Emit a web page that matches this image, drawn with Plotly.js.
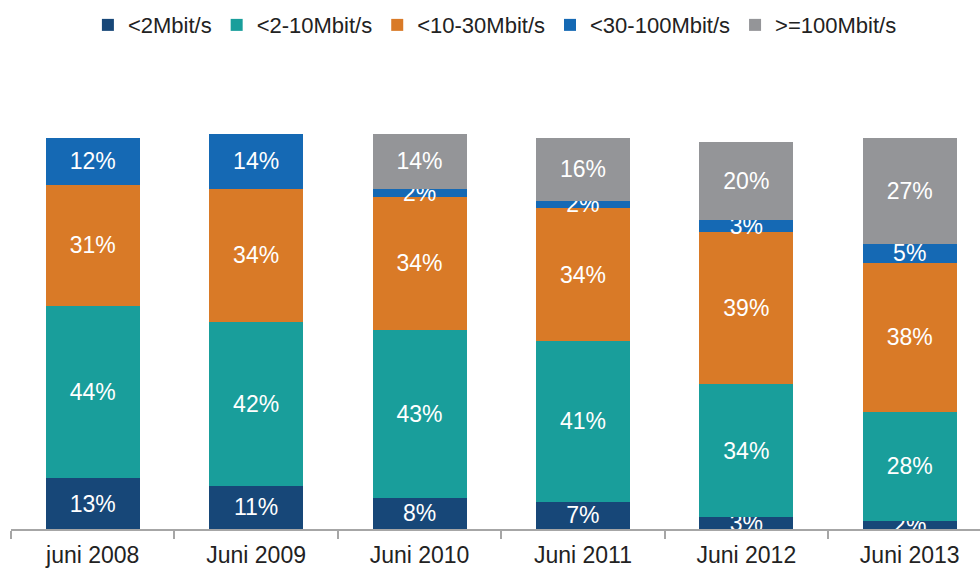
<!DOCTYPE html>
<html>
<head>
<meta charset="utf-8">
<script src="https://cdn.plot.ly/plotly-3.0.1.min.js"></script>
<style>
  body { margin: 0; background: #fff; }
  #chart { width: 980px; height: 570px; }
</style>
</head>
<body>
<div id="chart"></div>
<script>
// Data
var categories = ["juni 2008", "Juni 2009", "Juni 2010", "Juni 2011", "Juni 2012", "Juni 2013"];
var seriesNames = ["<2Mbit/s", "<2-10Mbit/s", "<10-30Mbit/s", "<30-100Mbit/s", ">=100Mbit/s"];
var lt2 = [13, 11, 8, 7, 3, 2];
var r2to10 = [44, 42, 43, 41, 34, 28];
var r10to30 = [31, 34, 34, 34, 39, 38];
var r30to100 = [12, 14, 2, 2, 3, 5];
var ge100 = [null, null, 14, 16, 20, 27];

var colors = ["#174778", "#199e9b", "#d97a27", "#1569b4", "#949598"];
var values = [lt2, r2to10, r10to30, r30to100, ge100];

var data = values.map(function (vals, i) {
  return {
    x: categories,
    y: vals,
    name: seriesNames[i],
    type: "bar",
    marker: { color: colors[i] },
    text: vals.map(function (v) { return v == null ? "" : v + "%"; }),
    textposition: "inside",
    insidetextanchor: "middle",
    textangle: 0,
    textfont: { color: "#ffffff", size: 23, family: "Liberation Sans, Arial, sans-serif" },
    hoverinfo: "none"
  };
});

var layout = {
  barmode: "stack",
  bargap: 0.425,
  width: 980,
  height: 570,
  margin: { l: 11, r: 0, t: 100, b: 41 },
  paper_bgcolor: "#ffffff",
  plot_bgcolor: "#ffffff",
  font: { family: "Liberation Sans, Arial, sans-serif", color: "#222222" },
  uniformtext: { mode: "show", minsize: 23 },
  showlegend: true,
  legend: {
    orientation: "h",
    traceorder: "normal",
    xref: "container",
    yref: "container",
    x: 0.505,
    xanchor: "center",
    y: 0.956,
    yanchor: "middle",
    font: { size: 22, color: "#222222" }
  },
  xaxis: {
    type: "category",
    range: [-0.5, 5.43],
    tickson: "boundaries",
    ticks: "outside",
    ticklen: 8,
    tickwidth: 2,
    tickcolor: "#a6a6a6",
    showline: true,
    linecolor: "#a6a6a6",
    linewidth: 2,
    ticklabelstandoff: 4,
    tickfont: { size: 23, color: "#222222" },
    showgrid: false,
    zeroline: false
  },
  yaxis: {
    range: [0, 109.7],
    visible: false,
    showgrid: false,
    zeroline: false
  }
};

Plotly.newPlot("chart", data, layout, { displayModeBar: false, staticPlot: true });
</script>
</body>
</html>
